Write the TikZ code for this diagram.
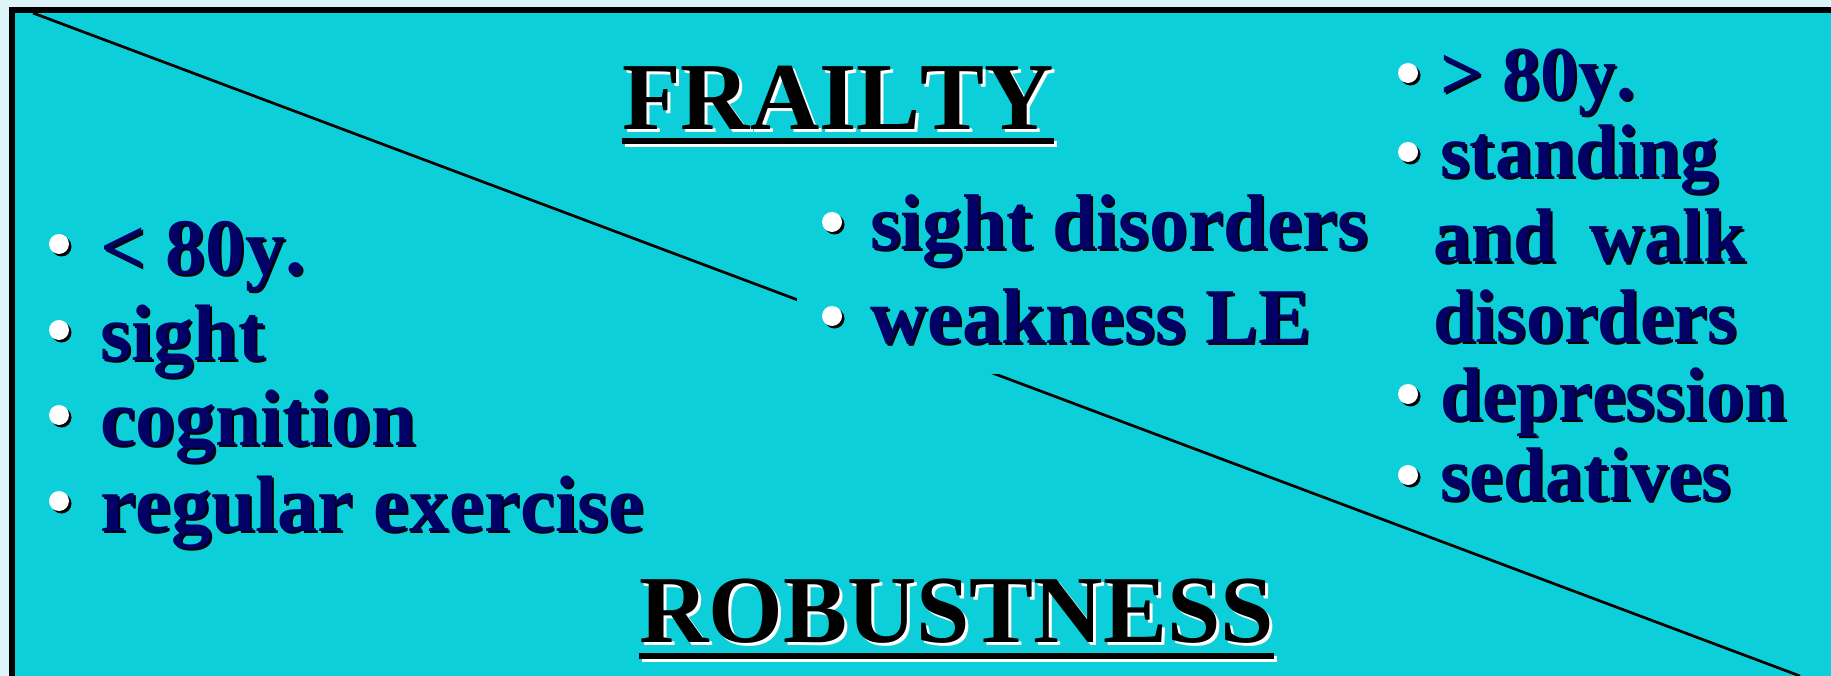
\documentclass[tikz,border=0pt]{standalone}
\usepackage{fontspec}
\setmainfont[Kerning=Off]{Liberation Serif}
\usetikzlibrary{shadows}
\definecolor{pagebg}{RGB}{221,244,248}
\definecolor{panelcyan}{RGB}{12,207,217}
\definecolor{itemnavy}{RGB}{0,0,102}
% text with a hard offset shadow: [offset]{text colour}{shadow colour}{text}
\newcommand{\shtext}[4][2pt]{\rlap{\kern#1\raisebox{-#1}{\color{#3}#4}}{\color{#2}#4}}
\newcommand{\navytext}[1]{\shtext{itemnavy}{black}{#1}}
\begin{document}
\begin{tikzpicture}[x=1pt,y=-1pt,
  item/.style={anchor=base west,inner sep=0pt,font=\fontsize{80}{90}\selectfont\bfseries},
  miditem/.style={item,font=\fontsize{79}{89}\selectfont\bfseries},
  smallitem/.style={item,font=\fontsize{76}{86}\selectfont\bfseries},
  heading/.style={anchor=base west,inner sep=0pt,font=\fontsize{96}{110}\selectfont\bfseries},
  bullet/.style={circle,fill=white,inner sep=0pt,minimum size=20pt,
    drop shadow={fill=black,opacity=1,shadow xshift=2.5pt,shadow yshift=-2.5pt}},
  uline/.style={line width=6pt}]
  \useasboundingbox (0,0) rectangle (1831,676);
  \clip (0,0) rectangle (1831,676);
  % Page and panel
  \fill[pagebg] (0,0) rectangle (1831,676);
  \fill[panelcyan] (12,10) rectangle (1850,700);
  \draw[line width=6pt] (12,700) -- (12,10) -- (1850,10);
  % Diagonal
  \coordinate (diagA) at (33,13);
  \coordinate (diagB) at (1800,676);
  \draw[line width=2.7pt] (diagA) -- (diagB);
  % Middle box (hides the diagonal)
  \node[fill=panelcyan,inner sep=0pt,minimum width=580pt,minimum height=190pt,anchor=south west] (midbox) at (797,374) {};
  % Headings
  \node[heading] (frailty) at (622,130) {\shtext[3pt]{black}{white}{FRAILTY}};
  \draw[uline,white] ([shift={(3pt,-14pt)}]frailty.base west) -- ([shift={(3pt,-14pt)}]frailty.base east);
  \draw[uline] ([yshift=-11pt]frailty.base west) -- ([yshift=-11pt]frailty.base east);
  \node[heading] (robust) at (639,642) {\shtext[3pt]{black}{white}{ROBUSTNESS}};
  \draw[uline,white] ([shift={(3pt,-17pt)}]robust.base west) -- ([shift={(3pt,-17pt)}]robust.base east);
  \draw[uline] ([yshift=-14pt]robust.base west) -- ([yshift=-14pt]robust.base east);
  % Left column
  \node[bullet] (lb1) at (59,244) {};
  \node[item] (l1) at (100,275) {\navytext{< 80y.}};
  \node[bullet] (lb2) at (59,330) {};
  \node[item] (l2) at (100,360) {\navytext{sight}};
  \node[bullet] (lb3) at (59,415) {};
  \node[item] (l3) at (100,445) {\navytext{cognition}};
  \node[bullet] (lb4) at (59,501) {};
  \node[item] (l4) at (100,531) {\navytext{regular exercise}};
  % Middle column
  \node[bullet] (mb1) at (832,222) {};
  \node[miditem] (m1) at (870,250) {\navytext{sight disorders}};
  \node[bullet] (mb2) at (832,316) {};
  \node[miditem] (m2) at (870,343) {\navytext{weakness LE}};
  % Right column
  \node[bullet] (rb1) at (1408,73) {};
  \node[smallitem] (r1) at (1440,100) {\navytext{> 80y.}};
  \node[bullet] (rb2) at (1408,152) {};
  \node[smallitem] (r2) at (1440,178) {\navytext{standing}};
  \node[smallitem] (r3) at (1433,262) {\navytext{and\hspace{34pt}walk}};
  \node[smallitem] (r4) at (1433,342) {\navytext{disorders}};
  \node[bullet] (rb3) at (1408,394) {};
  \node[smallitem] (r5) at (1440,420) {\navytext{depression}};
  \node[bullet] (rb4) at (1408,475) {};
  \node[smallitem] (r6) at (1440,500) {\navytext{sedatives}};
\end{tikzpicture}
\end{document}
